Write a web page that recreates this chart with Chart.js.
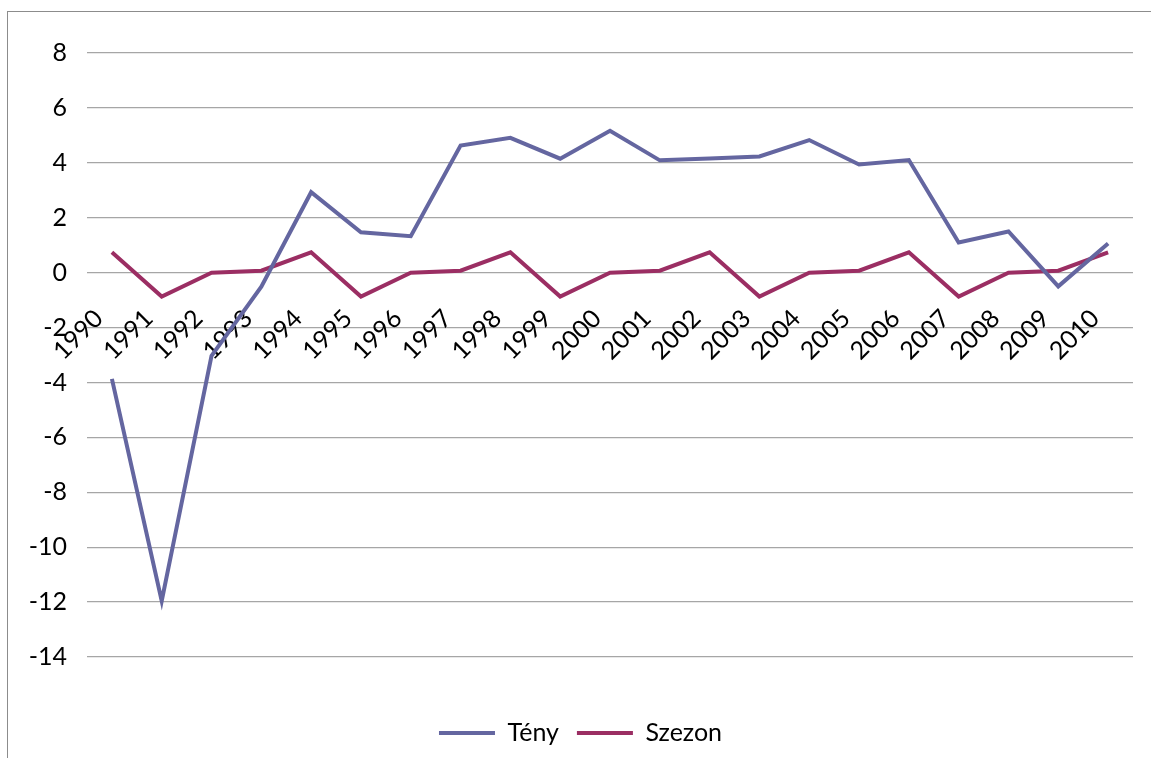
<!DOCTYPE html>
<html>
<head>
<meta charset="utf-8">
<script src="https://cdn.jsdelivr.net/npm/chart.js@4"></script>
<style>
    html, body { margin: 0; padding: 0; background: #fff; overflow: hidden; }
    #frame { position: absolute; left: 7px; top: 11px; width: 1300px; height: 900px; border: 1px solid #8c8c8c; }
    #wrap { position: absolute; left: 0; top: 0; width: 1151px; height: 758px; }
</style>
</head>
<body>
<div id="frame"></div>
<div id="wrap"><canvas id="chart" width="1151" height="758"></canvas></div>
<script>
// data
const years = ['1990', '1991', '1992', '1993', '1994', '1995', '1996', '1997', '1998', '1999', '2000',
    '2001', '2002', '2003', '2004', '2005', '2006', '2007', '2008', '2009', '2010'];
const teny = [-3.87, -11.96, -3.03, -0.51, 2.93, 1.47, 1.33, 4.63, 4.91, 4.15, 5.17,
    4.09, 4.16, 4.23, 4.83, 3.94, 4.1, 1.1, 1.5, -0.5, 1.06];
const szezon = [0.74, -0.87, 0, 0.07, 0.74, -0.87, 0, 0.07, 0.74, -0.87, 0,
    0.07, 0.74, -0.87, 0, 0.07, 0.74, -0.87, 0, 0.07, 0.74];
const seriesNames = ['Tény', 'Szezon'];
const yMin = -14, yMax = 8, yStep = 2;

const font = { family: 'Lato', size: 25 };
const gridColor = '#a6a6a6';

new Chart(document.getElementById('chart').getContext('2d'), {
    type: 'line',
    data: {
        labels: years,
        datasets: [
            { label: seriesNames[0], data: teny, borderColor: '#6466a0', backgroundColor: '#6466a0', borderWidth: 4, pointRadius: 0, tension: 0 },
            { label: seriesNames[1], data: szezon, borderColor: '#9b2e63', backgroundColor: '#9b2e63', borderWidth: 4, pointRadius: 0, tension: 0 }
        ]
    },
    options: {
        responsive: false,
        animation: false,
        layout: { padding: { left: 28, right: 18, top: 53, bottom: 2.5 } },
        plugins: {
            tooltip: { enabled: false },
            legend: {
                position: 'bottom',
                // empty title only pushes the legend row down
                title: { display: true, text: '', font: { size: 10 }, padding: { top: 33.5, bottom: 0 } },
                labels: {
                    font: font, color: '#000', boxWidth: 56, boxHeight: 4, padding: 18,
                    generateLabels: (chart) => chart.data.datasets.map((ds, i) => ({
                        text: ds.label, fillStyle: ds.borderColor, strokeStyle: ds.borderColor,
                        lineWidth: 0, hidden: false, datasetIndex: i, fontColor: '#000'
                    }))
                }
            }
        },
        scales: {
            x: {
                position: { y: 0 },
                offset: true,
                afterFit: (s) => { s.paddingLeft = 0; s.paddingRight = 0; },
                grid: { display: false, drawTicks: false },
                border: { display: false },
                ticks: { font: font, color: '#000', minRotation: 45, maxRotation: 45, padding: 31, labelOffset: -13, autoSkip: false }
            },
            y: {
                min: yMin, max: yMax,
                afterFit: (s) => { s.width = 59; },
                grid: { color: gridColor, lineWidth: 1.3, drawTicks: false },
                border: { display: false },
                ticks: { stepSize: yStep, font: font, color: '#000', padding: 20 }
            }
        }
    }
});
</script>
</body>
</html>
